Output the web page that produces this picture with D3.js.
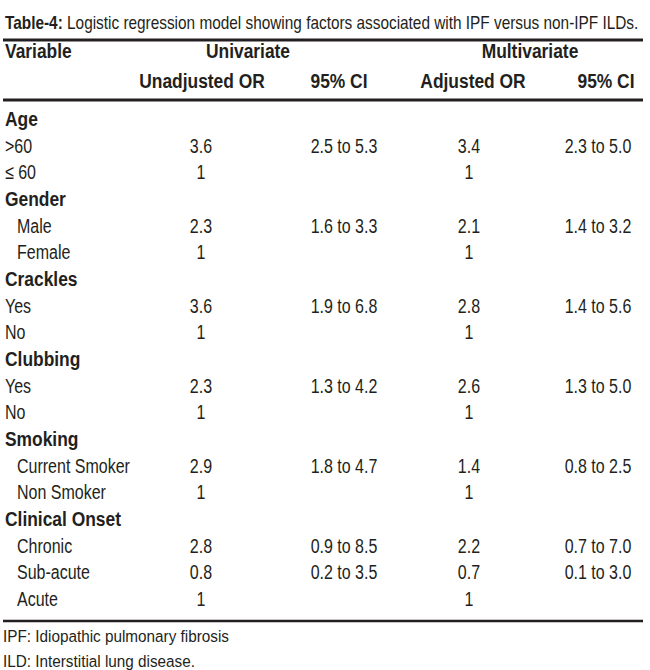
<!DOCTYPE html>
<html>
<head>
<meta charset="utf-8">
<script src="https://cdn.jsdelivr.net/npm/d3@7"></script>
<style>
  body { margin: 0; background: #fff; }
  svg { display: block; }
  text { font-family: "Liberation Sans", Arial, sans-serif; fill: #231f20; }
  .bold { font-weight: bold; }
</style>
</head>
<body>
<div id="chart"></div>
<script>
// Table data
const rowLabels = ['Age', '>60', '\u2264 60', 'Gender', 'Male', 'Female', 'Crackles', 'Yes', 'No',
  'Clubbing', 'Yes', 'No', 'Smoking', 'Current Smoker', 'Non Smoker', 'Clinical Onset',
  'Chronic', 'Sub-acute', 'Acute'];
const rowIsGroup = [1, 0, 0, 1, 0, 0, 1, 0, 0, 1, 0, 0, 1, 0, 0, 1, 0, 0, 0];
const rowIndent  = [0, 0, 0, 0, 1, 1, 0, 0, 0, 0, 0, 0, 0, 1, 1, 0, 1, 1, 1];
const unadjustedOR = ['', '3.6', '1', '', '2.3', '1', '', '3.6', '1', '', '2.3', '1', '', '2.9', '1', '', '2.8', '0.8', '1'];
const unadjustedCI = ['', '2.5 to 5.3', '', '', '1.6 to 3.3', '', '', '1.9 to 6.8', '', '', '1.3 to 4.2', '', '',
  '1.8 to 4.7', '', '', '0.9 to 8.5', '0.2 to 3.5', ''];
const adjustedOR = ['', '3.4', '1', '', '2.1', '1', '', '2.8', '1', '', '2.6', '1', '', '1.4', '1', '', '2.2', '0.7', '1'];
const adjustedCI = ['', '2.3 to 5.0', '', '', '1.4 to 3.2', '', '', '1.4 to 5.6', '', '', '1.3 to 5.0', '', '',
  '0.8 to 2.5', '', '', '0.7 to 7.0', '0.1 to 3.0', ''];

const groupHeaders = ['Univariate', 'Multivariate'];
const columnKeys = ['uOR', 'uCI', 'aOR', 'aCI'];
const columnHeaders = ['Unadjusted OR', '95% CI', 'Adjusted OR', '95% CI'];
const titleBold = 'Table-4:';
const titleText = ' Logistic regression model showing factors associated with IPF versus non-IPF ILDs.';
const footnotes = ['IPF: Idiopathic pulmonary fibrosis', 'ILD: Interstitial lung disease.'];

const W = 650, H = 670;
const FS = 20;        // body font size
const SX = 0.8;       // horizontal squeeze, condensed look
const SXB = 0.87;     // squeeze for bold text

const svg = d3.select('#chart').append('svg')
  .attr('width', W).attr('height', H)
  .attr('viewBox', `0 0 ${W} ${H}`);

// Scales
const y = d3.scalePoint().domain(d3.range(rowLabels.length)).range([126, 606]);
const xCol = d3.scaleOrdinal().domain(columnKeys).range([201, 344, 469, 598]);
const xHead = d3.scaleOrdinal().domain(columnKeys).range([202, 339, 473, 606]);
const xGroup = d3.scaleOrdinal().domain(groupHeaders).range([248, 530]);

function label(g, txt, x, yy, opts = {}) {
  const sx = opts.sx || (opts.bold ? SXB : SX);
  return g.append('text')
    .attr('transform', `translate(${x},${yy}) scale(${sx},1)`)
    .attr('text-anchor', opts.anchor || 'start')
    .attr('class', opts.bold ? 'bold' : null)
    .style('font-size', (opts.size || FS) + 'px')
    .text(txt);
}

// Title: squeezed to fit the table width
const title = svg.append('text')
  .style('font-size', '19px');
title.append('tspan').attr('class', 'bold').text(titleBold);
title.append('tspan').text(titleText);
const tw = title.node().getComputedTextLength();
title.attr('transform', `translate(5,29) scale(${634 / tw},1)`);

// Rules
const rules = [{ y: 40, w: 3 }, { y: 100, w: 3 }, { y: 621, w: 2.5 }];
svg.selectAll('line.rule').data(rules).join('line')
  .attr('class', 'rule')
  .attr('x1', 3).attr('x2', 643)
  .attr('y1', d => d.y).attr('y2', d => d.y)
  .attr('stroke', '#231f20').attr('stroke-width', d => d.w);

// Headers
const head = svg.append('g').attr('class', 'header');
label(head, 'Variable', 5, 58, { bold: true });
groupHeaders.forEach(h => label(head, h, xGroup(h), 58, { bold: true, anchor: 'middle' }));
columnKeys.forEach((k, i) => label(head, columnHeaders[i], xHead(k), 88, { bold: true, anchor: 'middle' }));

// Body
const body = svg.append('g').attr('class', 'body');
rowLabels.forEach((lab, i) => {
  const yy = y(i);
  label(body, lab, rowIndent[i] ? 17 : 5, yy, { bold: !!rowIsGroup[i] });
  [unadjustedOR, unadjustedCI, adjustedOR, adjustedCI].forEach((col, j) => {
    if (col[i]) label(body, col[i], xCol(columnKeys[j]), yy, { anchor: 'middle' });
  });
});

// Footnotes
const foot = svg.append('g').attr('class', 'foot');
footnotes.forEach((f, i) => label(foot, f, 3, 642 + i * 25, { size: 17, sx: 0.9 }));
</script>
</body>
</html>
